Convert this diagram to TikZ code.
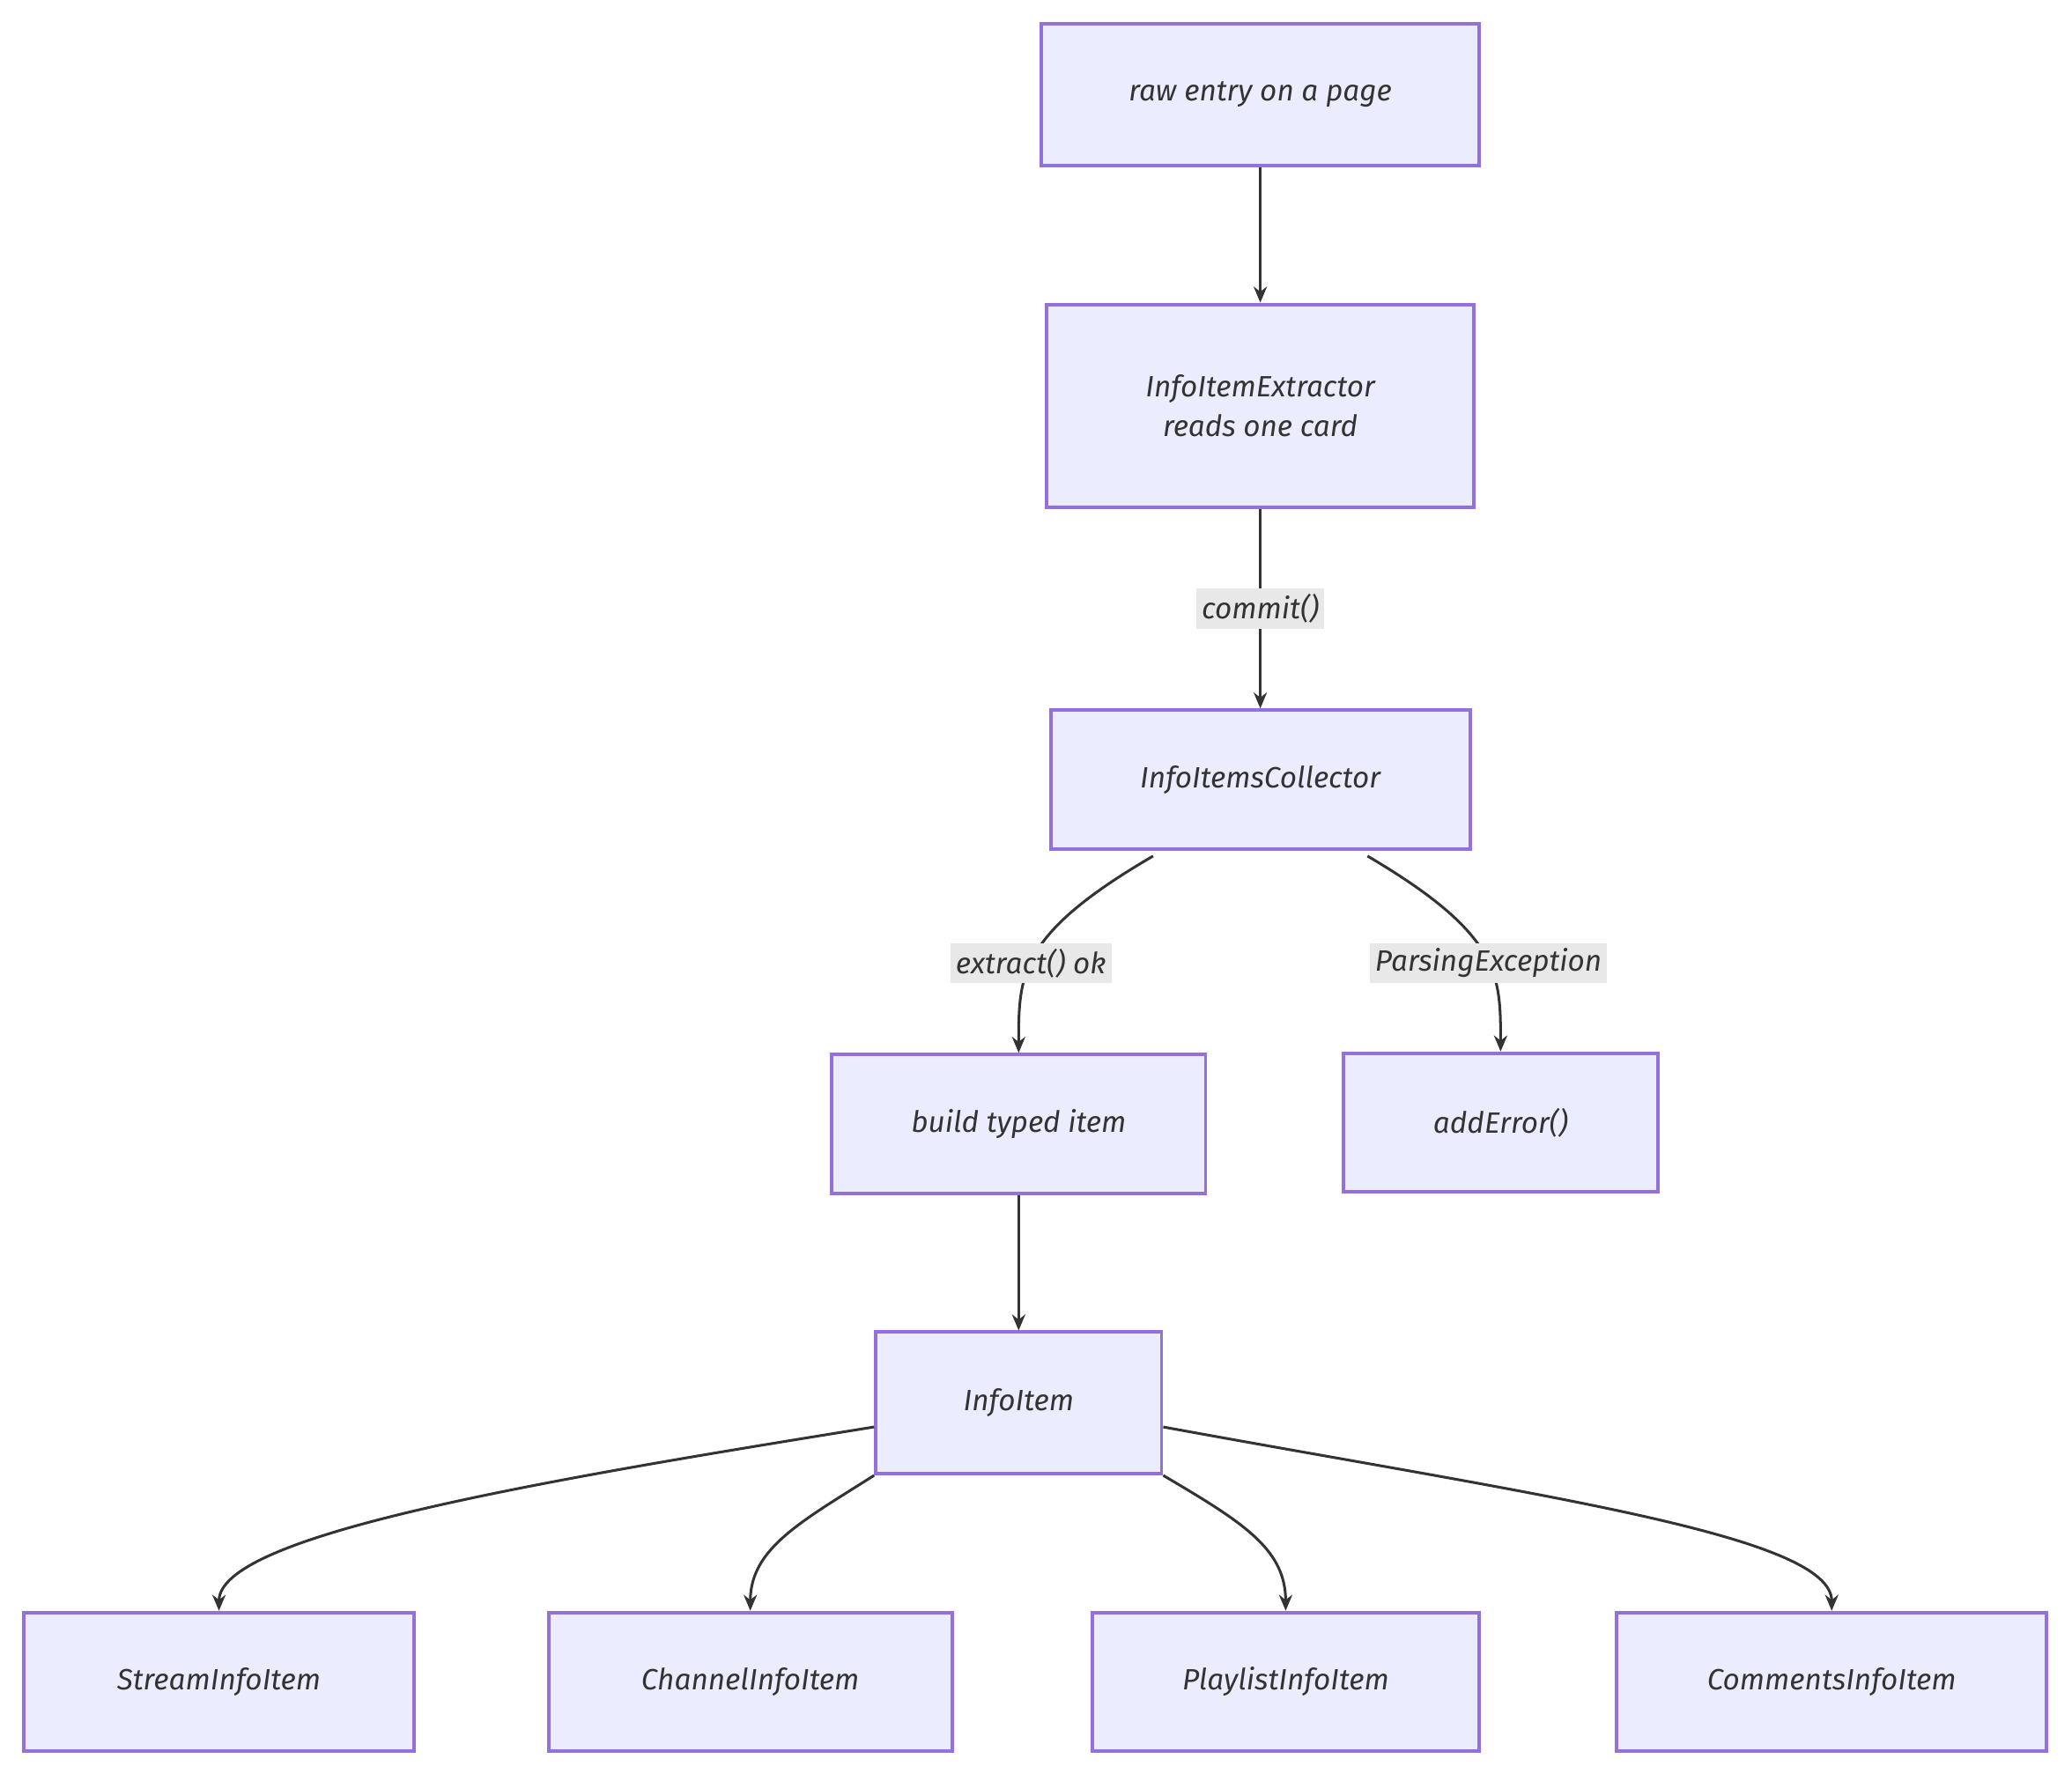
\documentclass[tikz,border=0pt]{standalone}
\usepackage{fontspec}
\setmainfont{Fira Sans}
\usetikzlibrary{arrows.meta}
\definecolor{nfill}{HTML}{ECECFF}
\definecolor{nline}{HTML}{9370DB}
\definecolor{eline}{HTML}{333333}
\definecolor{lbg}{HTML}{E8E8E8}
\begin{document}
\begin{tikzpicture}[x=0.5pt,y=-0.5pt,
  box/.style={draw=nline,fill=nfill,line width=1.3pt,font=\fontsize{11}{15}\selectfont\itshape,text=eline,align=center,inner sep=0pt},
  elabel/.style={fill=lbg,font=\fontsize{11}{13}\selectfont\itshape,text=eline,inner sep=2pt},
  conn/.style={draw=eline,line width=1pt,-{Stealth[length=6pt,width=5pt]}}]
\useasboundingbox[fill=white] (0,0) rectangle (1552,1334);
\node[box,minimum width=164pt,minimum height=53pt] (raw) at (944,71) {raw entry on a page};
\node[box,minimum width=160pt,minimum height=76pt] (ext) at (944,304) {InfoItemExtractor\\reads one card};
\node[box,minimum width=157pt,minimum height=52pt] (col) at (944,584) {InfoItemsCollector};
\node[box,minimum width=140pt,minimum height=52pt] (bld) at (763,842) {build typed item};
\node[box,minimum width=118pt,minimum height=52pt] (err) at (1124,841) {addError()};
\node[box,minimum width=107pt,minimum height=53pt] (ii) at (763,1051) {InfoItem};
\node[box,minimum width=146pt,minimum height=52pt] (s) at (164,1260) {StreamInfoItem};
\node[box,minimum width=151pt,minimum height=52pt] (c) at (562,1260) {ChannelInfoItem};
\node[box,minimum width=145pt,minimum height=52pt] (p) at (963,1260) {PlaylistInfoItem};
\node[box,minimum width=161pt,minimum height=52pt] (m) at (1372,1260) {CommentsInfoItem};
\draw[conn] (raw) -- (ext);
\draw[conn] (ext) -- node[elabel]{commit()} (col);
\draw[conn] (col.south west)++(78,4) .. controls (763,700) and (763,730) .. node[elabel,pos=0.55]{extract() ok} (bld.north);
\draw[conn] (col.south east)++(-78,4) .. controls (1124,700) and (1124,730) .. node[elabel,pos=0.55]{ParsingException} (err.north);
\draw[conn] (bld) -- (ii);
\draw[conn] (ii.west)++(0,18) .. controls (400,1110) and (164,1150) .. (s.north);
\draw[conn] (ii.south west) .. controls (600,1140) and (562,1160) .. (c.north);
\draw[conn] (ii.south east) .. controls (930,1140) and (963,1160) .. (p.north);
\draw[conn] (ii.east)++(0,18) .. controls (1150,1120) and (1372,1150) .. (m.north);
\end{tikzpicture}
\end{document}
